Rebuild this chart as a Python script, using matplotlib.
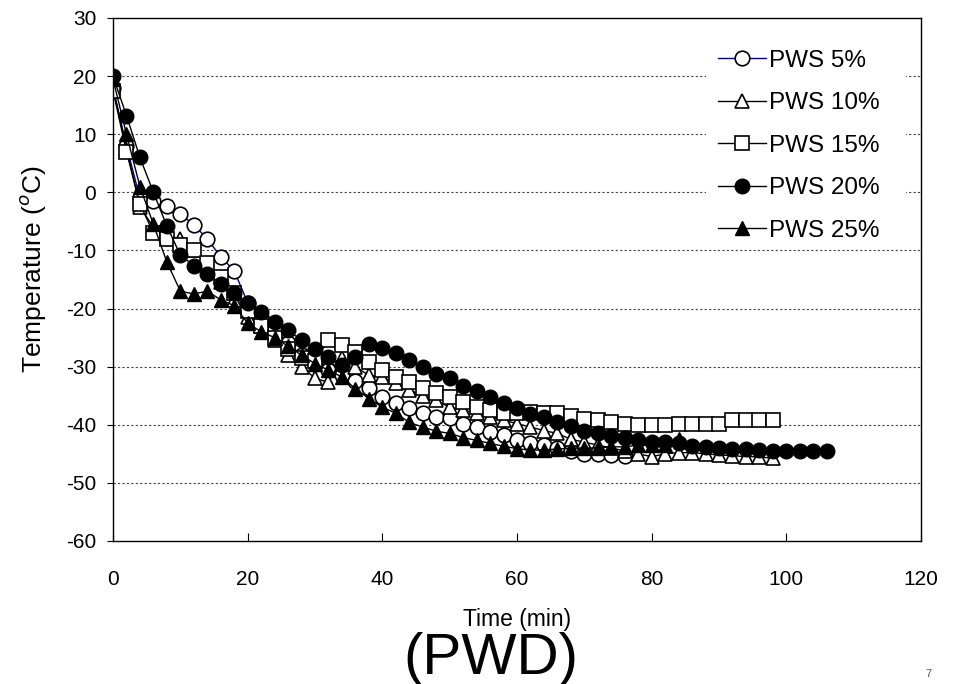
import numpy as np
import matplotlib.pyplot as plt
from matplotlib.patches import Rectangle

plt.rcParams['font.family'] = ['Liberation Sans', 'DejaVu Sans']
plt.rcParams['axes.unicode_minus'] = False

# cooling curves, readings every 2 min
t_5 = list(range(0, 78, 2))
pws_5 = [18, 8, -1, -1.5, -2.3, -3.7, -5.6, -8, -11.1, -13.5,
         -19, -21.5, -23.5, -26, -28, -29.5, -30.5, -31.5, -32.4, -33.7,
         -35.2, -36.3, -37.2, -38, -38.7, -38.9, -39.8, -40.4, -41.3, -41.8,
         -42.7, -43.2, -43.5, -44, -44.5, -45, -45, -45.2, -45.3]

t_10 = list(range(0, 100, 2))
pws_10 = [18, 7.5, -2.5, -6, -7.5, -8, -10, -12.5, -15.5, -18.5,
          -21.5, -23, -25.5, -28, -30, -32, -32.7, -28.5, -30, -31.5,
          -31.8, -32.9, -34, -35, -35.8, -37, -37.5, -38, -38.7, -39.2,
          -39.8, -40.4, -41, -41.5, -42.5, -43, -43.5, -44, -44.5, -45,
          -45.5, -45, -44.8, -44.8, -45, -45.2, -45.3, -45.5, -45.5, -45.8]

t_15 = list(range(0, 100, 2))
pws_15 = [17.5, 7, -2, -7, -8, -9, -10, -12.2, -14.6, -17.4,
          -20.5, -23, -25, -27, -28.5, -29, -25.4, -26.2, -27.5, -29.2,
          -30.6, -31.8, -32.7, -33.6, -34.6, -35.3, -36.1, -37, -37.5, -38,
          -38, -37.8, -38, -38, -38.5, -39, -39.2, -39.6, -39.8, -40.1,
          -40.1, -40.1, -39.8, -39.8, -39.8, -39.8, -39.2, -39.2, -39.2, -39.2]

t_20 = list(range(0, 108, 2))
pws_20 = [20, 13.2, 6, 0, -5.8, -10.8, -12.6, -14, -15.7, -17.4,
          -19, -20.6, -22.4, -23.7, -25.5, -26.9, -28.4, -29.8, -28.4, -26.1,
          -26.8, -27.7, -28.9, -30.1, -31.2, -32, -33.4, -34.2, -35.3, -36.3,
          -37.2, -38.2, -38.7, -39.6, -40.3, -41, -41.5, -42, -42.3, -42.7,
          -43, -43, -43.2, -43.7, -43.9, -44, -44.2, -44.2, -44.4, -44.6,
          -44.6, -44.6, -44.6, -44.6]

t_25 = list(range(0, 86, 2))
pws_25 = [19.5, 10, 1, -5.5, -12, -17, -17.5, -17, -18.5, -19.5,
          -22.5, -24, -25, -26.5, -28, -29.5, -30.6, -31.8, -33.8, -35.5,
          -37, -38, -39.6, -40.4, -41.1, -41.5, -42.2, -42.7, -43.2, -43.7,
          -44.1, -44.4, -44.3, -44.2, -44, -44, -44, -43.8, -43.8, -43.5,
          -43.5, -43.5, -42.5]

labels = ['PWS 5%', 'PWS 10%', 'PWS 15%', 'PWS 20%', 'PWS 25%']

fig = plt.figure(figsize=(9.56, 6.84), dpi=100)
ax = fig.add_axes([0.1182, 0.2091, 0.8452, 0.7646])

ms = 10.5
ax.plot(t_5, pws_5, color='#000080', lw=1, marker='o', ms=ms, mfc='white', mec='black', mew=1.2, label=labels[0])
ax.plot(t_10, pws_10, color='black', lw=1, marker='^', ms=ms, mfc='white', mec='black', mew=1.2, label=labels[1])
ax.plot(t_15, pws_15, color='black', lw=1, marker='s', ms=10, mfc='white', mec='black', mew=1.2, label=labels[2])
ax.plot(t_20, pws_20, color='black', lw=1, marker='o', ms=ms, mfc='black', mec='black', label=labels[3])
ax.plot(t_25, pws_25, color='black', lw=1, marker='^', ms=ms, mfc='black', mec='black', label=labels[4])

ax.set_xlim(0, 120)
ax.set_ylim(-60, 30)
ax.set_xticks(np.arange(0, 121, 20))
ax.set_yticks(np.arange(-60, 31, 10))
for y in range(-50, 30, 10):
    ax.axhline(y, color='#444444', lw=0.8, ls=(0, (2, 2)), zorder=0)

ax.tick_params(axis='x', direction='in', length=6, pad=21, labelsize=15)
ax.tick_params(axis='y', direction='out', length=4, pad=8, labelsize=15)
for s in ax.spines.values():
    s.set_linewidth(1)

ax.set_xlabel('Time (min)', fontsize=16.5)
ax.xaxis.set_label_coords(0.5, -0.128)
ax.set_ylabel('Temperature ($^o$C)', fontsize=19)
ax.yaxis.set_label_coords(-0.080, 0.52)

# white block behind the legend hides the grid there
ax.add_patch(Rectangle((0.7385, 0.640), 0.2095, 0.316, transform=fig.transFigure,
                       facecolor='white', edgecolor='none', zorder=1))
ax.legend(loc='upper left', bbox_to_anchor=(0.7385, 0.9447), bbox_transform=fig.transFigure,
          frameon=False, fontsize=17.5, borderpad=0, handlelength=1.95, handletextpad=0.15,
          labelspacing=0.84)

fig.text(0.513, 0.037, '(PWD)', fontsize=42, ha='center', va='center')
fig.text(0.971, 0.015, '7', fontsize=8, color='#555555', ha='center', va='center')

fig.savefig('out.png', dpi=100)
